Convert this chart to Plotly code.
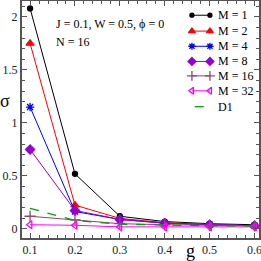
import plotly.graph_objects as go

g = [0.1, 0.2, 0.3, 0.4, 0.5, 0.6]
m1 = [2.08, 0.52, 0.12, 0.07, 0.05, 0.04]
m2 = [1.75, 0.225, 0.10, 0.06, 0.04, 0.03]
m4 = [1.15, 0.165, 0.09, 0.055, 0.04, 0.03]
m8 = [0.75, 0.175, 0.09, 0.055, 0.04, 0.03]
m16 = [0.12, 0.085, 0.05, 0.04, 0.035, 0.03]
m32 = [0.04, 0.035, 0.02, 0.02, 0.02, 0.02]
d1 = [0.195, 0.08, 0.045, 0.035, 0.03, 0.03]

names = ["M = 1", "M = 2", "M = 4", "M = 8", "M = 16", "M = 32"]
series = [m1, m2, m4, m8, m16, m32]
colors = ["black", "red", "blue", "#9400d3", "#8b4a6b", "magenta"]
symbols = ["circle", "triangle-up", "asterisk-open", "diamond", "cross-thin-open", "triangle-left-open"]
msizes = [5, 7, 7, 7, 8, 7]

font = "Liberation Serif"

# legend layout (paper fractions of the plot area)
leg_y = [0.940, 0.873, 0.809, 0.745, 0.684, 0.621, 0.554]
leg_x0, leg_x1, leg_tx = 0.717, 0.793, 0.817

fig = go.Figure()
for n, s, c, sym, ms in zip(names, series, colors, symbols, msizes):
    fig.add_trace(go.Scatter(x=g, y=s, name=n, mode="lines+markers", showlegend=False,
                             line=dict(color=c, width=1),
                             marker=dict(symbol=sym, color=c, size=ms,
                                         line=dict(color=c, width=1.3))))
fig.add_trace(go.Scatter(x=g, y=d1, name="D1", mode="lines", showlegend=False,
                         line=dict(color="#00a000", width=1.3, dash="dash")))

# custom legend samples on a hidden overlay axis
for i, (n, c, sym, ms) in enumerate(zip(names, colors, symbols, msizes)):
    fig.add_trace(go.Scatter(x=[leg_x0, leg_x1], y=[leg_y[i], leg_y[i]], xaxis="x2", yaxis="y2",
                             mode="lines+markers", showlegend=False, hoverinfo="skip",
                             line=dict(color=c, width=1),
                             marker=dict(symbol=sym, color=c, size=ms - 1,
                                         line=dict(color=c, width=1.3))))
fig.add_trace(go.Scatter(x=[leg_x0 + 0.012, leg_x1], y=[leg_y[6], leg_y[6]], xaxis="x2", yaxis="y2",
                         mode="lines", showlegend=False, hoverinfo="skip",
                         line=dict(color="#00a000", width=1.3, dash="dash")))
for i, n in enumerate(names + ["D1"]):
    fig.add_annotation(text=n, xref="paper", yref="paper", x=leg_tx, y=leg_y[i],
                       xanchor="left", yanchor="middle", showarrow=False,
                       font=dict(family=font, size=12, color="black"))

axis_common = dict(showline=True, linecolor="#555", linewidth=2, mirror="ticks",
                   ticks="inside", ticklen=5, tickcolor="#555", tickwidth=1,
                   showgrid=False, zeroline=False, automargin=False,
                   ticklabeloverflow="allow",
                   tickfont=dict(family=font, size=12, color="#222"))
fig.update_layout(
    xaxis=dict(range=[0.082, 0.61], tickvals=[0.1, 0.2, 0.3, 0.4, 0.5, 0.6],
               ticktext=["0.1", "0.2", "0.3", "0.4", "0.5", "0.6"],
               minor=dict(dtick=0.02, ticks="inside", ticklen=3, tickcolor="#555"),
               **axis_common),
    yaxis=dict(range=[-0.085, 2.15], tickvals=[0, 0.5, 1, 1.5, 2],
               ticktext=["0", "0.5", "1", "1.5", "2"],
               minor=dict(dtick=0.1, ticks="inside", ticklen=3, tickcolor="#555"),
               **axis_common),
    xaxis2=dict(overlaying="x", anchor="y2", range=[0, 1], visible=False, automargin=False),
    yaxis2=dict(overlaying="y", anchor="x2", range=[0, 1], visible=False, automargin=False),
)

fig.add_annotation(text="J = 0.1, W = 0.5, ϕ = 0", xref="paper", yref="paper",
                   x=0.135, y=0.903, xanchor="left", yanchor="middle", showarrow=False,
                   font=dict(family=font, size=12, color="black"))
fig.add_annotation(text="N = 16", xref="paper", yref="paper",
                   x=0.135, y=0.827, xanchor="left", yanchor="middle", showarrow=False,
                   font=dict(family=font, size=12, color="black"))
# axis titles
fig.add_annotation(text="σ", xref="paper", yref="paper", x=-0.072, y=0.58,
                   xanchor="center", yanchor="middle", showarrow=False,
                   font=dict(family=font, size=18, color="black"))
fig.add_annotation(text="g", xref="paper", yref="paper", x=0.709, y=-0.055,
                   xanchor="center", yanchor="middle", showarrow=False,
                   font=dict(family=font, size=18, color="black"))

fig.update_layout(width=261, height=261, margin=dict(l=22, r=2, t=1, b=23),
                  plot_bgcolor="white", paper_bgcolor="white", showlegend=False,
                  template="none")
fig.write_html("out.html", config={"displayModeBar": False},
               post_script="document.body.style.margin='0';document.body.style.overflow='hidden';")
